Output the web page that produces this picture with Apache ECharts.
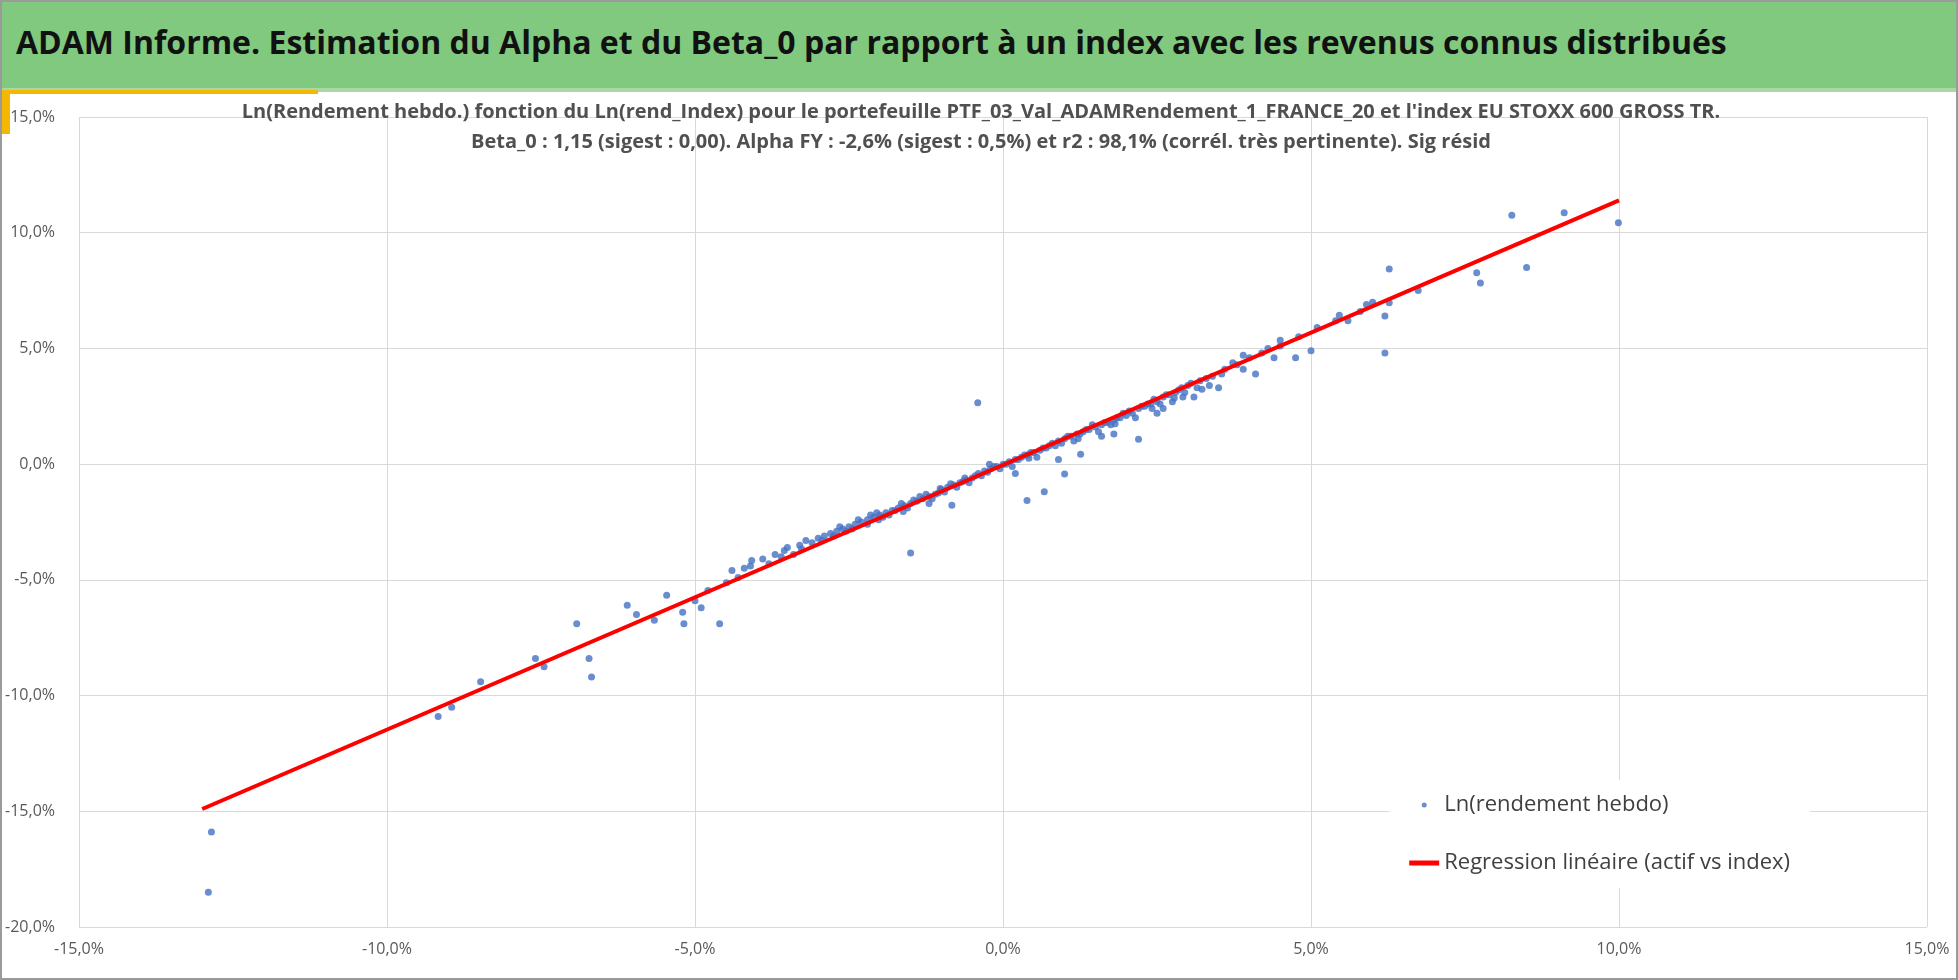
<!DOCTYPE html>
<html>
<head>
<meta charset="utf-8">
<script src="https://cdn.jsdelivr.net/npm/echarts@6/dist/echarts.min.js"></script>
<style>
  html, body { margin: 0; padding: 0; background: #fff; }
  #page { position: relative; width: 1958px; height: 980px; box-sizing: border-box; border: 2px solid #9a9a9a; overflow: hidden; }
  #head { position: absolute; left: 0; top: 0; width: 100%; height: 86px; background: #80c97e; border-bottom: 4px solid #a8d8a6; }
  #head span { position: absolute; left: 14px; top: 18px; font: bold 32px "Liberation Sans Narrow", "Open Sans", sans-serif; color: #111; }
  #ybar { position: absolute; left: 0; top: 90px; width: 8px; height: 42px; background: #f5b800; }
  #yline { position: absolute; left: 0; top: 88px; width: 316px; height: 4px; background: #f5b800; }
  #chart { position: absolute; left: 0; top: 90px; width: 1958px; height: 888px; }
</style>
</head>
<body>
<div id="page">
  <div id="head"><span>ADAM Informe. Estimation du Alpha et du Beta_0 par rapport à un index avec les revenus connus distribués</span></div>
  <div id="yline"></div><div id="ybar"></div>
  <div id="chart"></div>
</div>
<script>
// scatter points: [index return %, asset return %]
const outliers = [
  [-12.9, -18.5], [-12.85, -15.9], [-9.17, -10.9], [-8.95, -10.5], [-8.48, -9.4],
  [-7.59, -8.4], [-7.45, -8.75], [-6.92, -6.9], [-6.72, -8.4], [-6.68, -9.2],
  [-6.1, -6.1], [-5.95, -6.5], [-5.66, -6.75], [-5.46, -5.67], [-5.2, -6.4],
  [-5.18, -6.9], [-4.9, -6.2], [-4.79, -5.46], [-4.6, -6.9], [-4.49, -5.13],
  [-4.2, -4.5], [-4.08, -4.16], [-3.8, -4.3], [-3.55, -3.73], [-3.27, -3.67],
  [-2.94, -3.3], [-1.5, -3.84], [-0.83, -1.78], [-0.41, 2.65], [0.39, -1.57],
  [0.67, -1.19], [1.0, -0.43], [1.26, 0.43], [2.2, 1.08], [2.78, 2.86],
  [3.23, 3.24], [3.73, 4.38], [4.5, 5.35], [4.75, 4.6], [5.0, 4.9],
  [5.46, 6.43], [6.2, 6.4], [6.27, 6.97], [6.2, 4.8], [6.27, 8.43],
  [6.74, 7.5], [7.69, 8.27], [7.75, 7.83], [8.5, 8.5], [8.26, 10.75],
  [9.11, 10.86], [9.99, 10.43], [5.9, 6.9], [5.6, 6.2], [4.3, 5.0],
  [3.5, 3.3], [3.1, 2.9], [2.5, 2.2], [1.8, 1.3], [0.9, 0.2],
  [-5.0, -5.9], [-4.3, -4.9], [-3.6, -4.0], [-3.4, -3.9], [-2.2, -2.6],
  [-1.2, -1.7], [0.2, -0.4], [1.6, 1.2], [2.6, 2.4], [3.9, 4.7], [4.1, 3.9]
];
const cluster = [
  [-4.4, -4.6], [-4.1, -4.4], [-3.9, -4.1], [-3.7, -3.9], [-3.5, -3.6],
  [-3.3, -3.5], [-3.2, -3.3], [-3.0, -3.2], [-2.9, -3.1], [-2.8, -3.0],
  [-2.7, -2.9], [-2.6, -2.8], [-2.5, -2.7], [-2.4, -2.6], [-2.3, -2.5],
  [-2.2, -2.4], [-2.1, -2.3], [-2.0, -2.2], [-1.9, -2.1], [-1.8, -2.0],
  [-1.7, -1.9], [-1.6, -1.8], [-1.5, -1.7], [-1.4, -1.6], [-1.3, -1.5],
  [-1.2, -1.4], [-1.1, -1.3], [-1.0, -1.1], [-0.9, -1.0], [-0.8, -0.9],
  [-0.7, -0.8], [-0.6, -0.7], [-0.5, -0.6], [-0.4, -0.4], [-0.3, -0.3],
  [-0.2, -0.2], [-0.1, -0.1], [0.0, 0.0], [0.1, 0.1], [0.2, 0.2],
  [0.3, 0.3], [0.4, 0.4], [0.5, 0.5], [0.6, 0.6], [0.7, 0.7],
  [0.8, 0.9], [0.9, 1.0], [1.0, 1.1], [1.1, 1.2], [1.2, 1.3],
  [1.3, 1.4], [1.4, 1.5], [1.5, 1.6], [1.6, 1.7], [1.7, 1.8],
  [1.8, 1.9], [1.9, 2.0], [2.0, 2.1], [2.1, 2.2], [2.2, 2.4],
  [2.3, 2.5], [2.4, 2.6], [2.5, 2.7], [2.6, 2.9], [2.7, 3.0],
  [2.8, 3.1], [2.9, 3.3], [3.0, 3.4], [3.2, 3.6], [3.4, 3.8],
  [3.6, 4.1], [3.8, 4.3], [4.0, 4.6], [4.2, 4.8], [4.5, 5.1],
  [4.8, 5.5], [5.1, 5.9], [5.4, 6.2], [5.8, 6.6], [6.0, 7.0],
  [-2.55, -2.9], [-2.35, -2.4], [-2.05, -2.1], [-1.85, -2.2], [-1.65, -1.7],
  [-1.45, -1.55], [-1.25, -1.3], [-1.05, -1.25], [-0.85, -0.85], [-0.65, -0.75],
  [-0.45, -0.5], [-0.25, -0.35], [-0.15, -0.1], [0.05, 0.0], [0.25, 0.2],
  [0.45, 0.5], [0.65, 0.7], [0.85, 0.8], [1.05, 1.2], [1.25, 1.3],
  [1.45, 1.7], [1.65, 1.8], [1.85, 2.0], [2.05, 2.3], [2.25, 2.5],
  [2.45, 2.8], [2.65, 3.0], [2.85, 3.2], [3.05, 3.5], [3.3, 3.7],
  [-3.1, -3.4], [-2.75, -3.1], [-1.95, -2.3], [-1.55, -1.9], [-0.95, -1.2],
  [-0.55, -0.8], [0.15, -0.1], [0.55, 0.3], [1.15, 1.0], [1.55, 1.4],
  [2.15, 2.0], [2.75, 2.7], [3.35, 3.4], [3.9, 4.1], [4.4, 4.6],
  [-2.65, -2.7], [-2.45, -2.8], [-2.15, -2.2], [-1.75, -2.0], [-1.35, -1.4],
  [-1.15, -1.5], [-0.75, -1.0], [-0.35, -0.5], [-0.05, -0.2], [0.35, 0.4],
  [0.75, 0.8], [0.95, 0.9], [1.35, 1.5], [1.75, 1.7], [1.95, 2.2],
  [2.35, 2.6], [2.55, 2.6], [2.95, 3.1], [3.15, 3.3], [3.55, 3.9],
  [-1.62, -2.05], [-1.02, -1.05], [-0.62, -0.6], [0.42, 0.25], [1.22, 1.1],
  [1.82, 1.75], [2.42, 2.4], [2.92, 2.9], [-2.02, -2.4], [-0.22, 0.0]
];
const points = outliers.concat(cluster);
// regression line endpoints
const regX = [-13, 10];
const regY = [-14.9, 11.4];

const fmt = v => v.toFixed(1).replace('.', ',') + '%';
const font = '"Liberation Sans Narrow", "Open Sans", sans-serif';
const chart = echarts.init(document.getElementById('chart'));
chart.setOption({
  animation: false,
  title: {
    text: "Ln(Rendement hebdo.) fonction du Ln(rend_Index) pour le portefeuille PTF_03_Val_ADAMRendement_1_FRANCE_20 et l'index EU STOXX 600 GROSS TR.\nBeta_0 : 1,15 (sigest : 0,00). Alpha FY : -2,6% (sigest : 0,5%) et r2 : 98,1% (corrél. très pertinente). Sig résid",
    left: 'center', top: 0,
    textStyle: { fontFamily: font, fontSize: 20, fontWeight: 'bold', color: '#505050', lineHeight: 30 }
  },
  grid: { left: 77, right: 33, top: 25, bottom: 53 },
  legend: {
    right: 150, top: 688, orient: 'vertical', itemGap: 36,
    backgroundColor: '#fff', padding: [14, 20],
    textStyle: { fontFamily: font, fontSize: 22, color: '#404040' },
    data: [
      { name: 'Ln(rendement hebdo)', icon: 'circle', itemStyle: { color: '#4472c4' } },
      { name: 'Regression linéaire (actif vs index)', icon: 'rect' }
    ],
    itemWidth: 30, itemHeight: 5
  },
  xAxis: {
    type: 'value', min: -15, max: 15, interval: 5,
    axisLine: { show: false }, axisTick: { show: false },
    axisLabel: { formatter: fmt, color: '#595959', fontSize: 16, fontFamily: font, margin: 14 },
    splitLine: { lineStyle: { color: '#d9d9d9' } }
  },
  yAxis: {
    type: 'value', min: -20, max: 15, interval: 5,
    axisLine: { show: false }, axisTick: { show: false },
    axisLabel: { formatter: fmt, color: '#595959', fontSize: 16, fontFamily: font, margin: 24 },
    splitLine: { lineStyle: { color: '#d9d9d9' } }
  },
  series: [
    {
      name: 'Ln(rendement hebdo)', type: 'scatter', data: points,
      symbolSize: 7, itemStyle: { color: '#4472c4' }, z: 2
    },
    {
      name: 'Regression linéaire (actif vs index)', type: 'line',
      data: regX.map((x, i) => [x, regY[i]]), symbol: 'none',
      lineStyle: { color: '#ff0000', width: 4 }, itemStyle: { color: '#ff0000' }, z: 3
    }
  ]
});
</script>
</body>
</html>
